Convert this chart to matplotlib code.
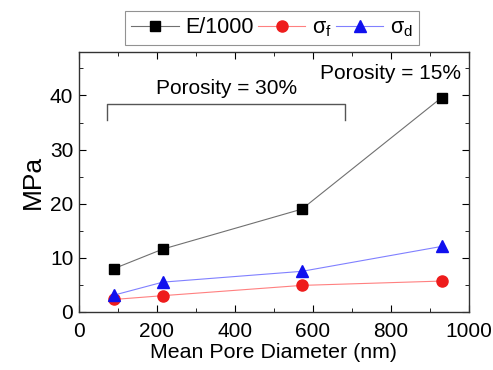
import matplotlib.pyplot as plt

plt.rcParams['font.family'] = ['Liberation Sans', 'DejaVu Sans']
plt.rcParams['mathtext.fontset'] = 'custom'
plt.rcParams['mathtext.rm'] = 'Liberation Sans'
plt.rcParams['mathtext.it'] = 'Liberation Sans'

# mean pore diameter (nm) and measured values (MPa)
diametre = [90, 215, 572, 930]
module_e = [8.0, 11.6, 19.0, 39.6]     # E/1000
sigma_f = [2.3, 3.0, 4.9, 5.7]
sigma_d = [3.1, 5.5, 7.5, 12.1]

fig = plt.figure(figsize=(4.93, 3.70), dpi=100)
ax = fig.add_axes([0.160, 0.157, 0.791, 0.702])

ax.plot(diametre, module_e, color='#707070', lw=0.8, marker='s', ms=7.5,
        mfc='black', mec='black', label='E/1000')
ax.plot(diametre, sigma_f, color='#ff8080', lw=0.8, marker='o', ms=8,
        mfc='#ee1c1c', mec='#ee1c1c', label=r'$\sigma_{\rm f}$')
ax.plot(diametre, sigma_d, color='#8080ff', lw=0.8, marker='^', ms=9,
        mfc='#1010ee', mec='#1010ee', label=r'$\sigma_{\rm d}$')

# bracket grouping the 30% porosity samples
ax.plot([72, 72, 682, 682], [35.4, 38.5, 38.5, 35.4], color='#555555', lw=1.0)
ax.text(378, 41.3, 'Porosity = 30%', ha='center', va='center', fontsize=15)
ax.text(800, 44.0, 'Porosity = 15%', ha='center', va='center', fontsize=15)

ax.set_xlim(0, 1000)
ax.set_ylim(0, 48)
ax.set_xticks([0, 200, 400, 600, 800, 1000])
ax.set_xticks(range(100, 1000, 200), minor=True)
ax.set_yticks([0, 10, 20, 30, 40])
ax.set_yticks([5, 15, 25, 35, 45], minor=True)
ax.tick_params(which='both', direction='in', top=True, right=True, labelsize=15)
ax.tick_params(which='major', length=5)
ax.tick_params(which='minor', length=3)
ax.tick_params(axis='x', pad=7)
ax.tick_params(axis='y', pad=4)
for s in ax.spines.values():
    s.set_linewidth(1.0)
    s.set_color('#333333')

ax.set_xlabel('Mean Pore Diameter (nm)', fontsize=15.4, labelpad=2)
ax.set_ylabel('MPa', fontsize=19, labelpad=4)

leg = ax.legend(loc='lower center', bbox_to_anchor=(0.495, 1.01), ncol=3,
                fontsize=15.5, handlelength=2.2, handletextpad=0.3,
                columnspacing=0.2, frameon=True, fancybox=False,
                borderpad=0.3, borderaxespad=0.2)
leg.get_frame().set_edgecolor('#777777')
leg.get_frame().set_linewidth(0.8)

fig.savefig('out.png', dpi=100)
